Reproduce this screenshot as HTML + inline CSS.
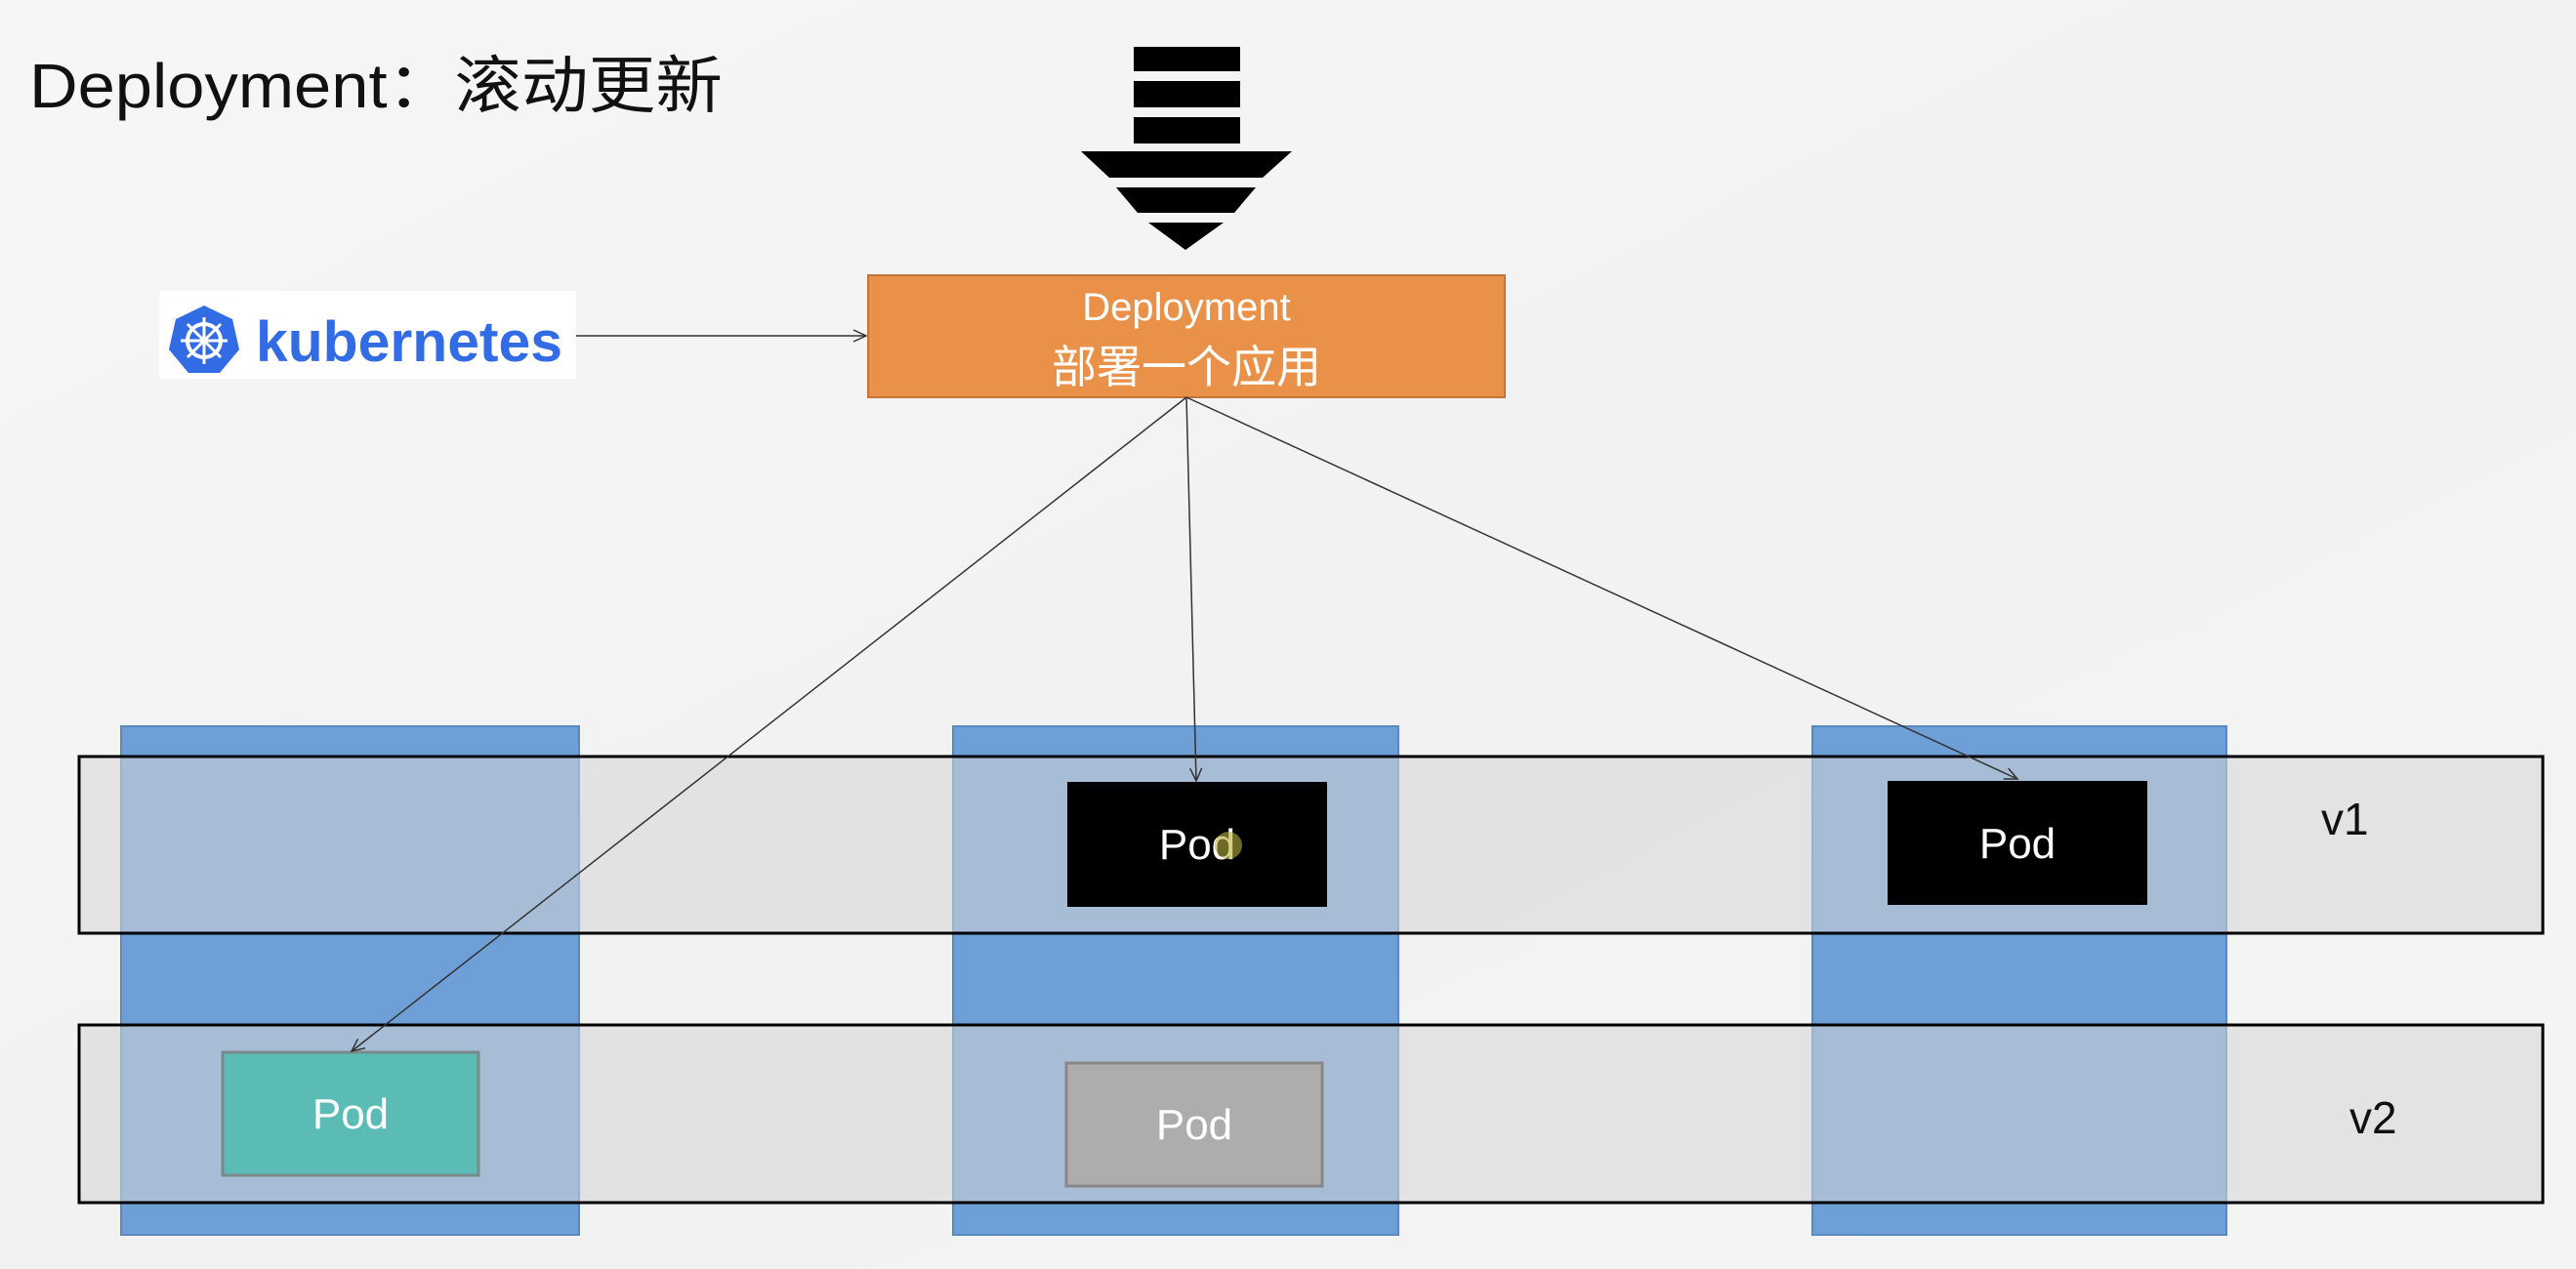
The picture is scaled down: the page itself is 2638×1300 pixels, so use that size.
<!DOCTYPE html>
<html><head><meta charset="utf-8"><style>
html,body{margin:0;padding:0;}
body{width:2638px;height:1300px;overflow:hidden;background:#f3f3f3;}
svg{display:block;}
</style></head><body>
<svg width="2638" height="1300" viewBox="0 0 2638 1300" xmlns="http://www.w3.org/2000/svg">
<defs>
<linearGradient id="bg" x1="0" y1="0" x2="1" y2="1">
<stop offset="0" stop-color="#f6f6f6"/><stop offset="0.5" stop-color="#f2f2f2"/><stop offset="1" stop-color="#f4f4f4"/>
</linearGradient>
<marker id="ah" markerWidth="16" markerHeight="16" refX="14" refY="8" orient="auto" markerUnits="userSpaceOnUse">
<path d="M1,2 L14,8 L1,14" fill="none" stroke="#333" stroke-width="1.5"/>
</marker>
</defs>
<rect width="2638" height="1300" fill="url(#bg)"/>

<!-- title -->
<text x="30" y="110" font-family="Liberation Sans, Noto Sans CJK SC, sans-serif" font-size="64" fill="#111" textLength="710" lengthAdjust="spacingAndGlyphs">Deployment：滚动更新</text>

<!-- big arrow -->
<g fill="#000">
<rect x="1161" y="48" width="109" height="25"/>
<rect x="1161" y="83" width="109" height="27"/>
<rect x="1161" y="120" width="109" height="27"/>
<polygon points="1107,155 1323,155 1293,182 1136,182"/>
<polygon points="1143,192 1286,192 1264,218 1165,218"/>
<polygon points="1176,228 1253,228 1214,256"/>
</g>

<!-- kubernetes logo -->
<rect x="163" y="298" width="427" height="90" fill="#fff"/>
<polygon points="209,313 238,327 245,358 225,382 193,382 173,358 180,327" fill="#326ce5"/>
<circle cx="209" cy="349" r="17" fill="none" stroke="#fff" stroke-width="4"/>
<g stroke="#fff" stroke-width="3">
<line x1="209" y1="325" x2="209" y2="373"/><line x1="185" y1="349" x2="233" y2="349"/>
<line x1="192" y1="332" x2="226" y2="366"/><line x1="226" y1="332" x2="192" y2="366"/>
</g>
<text x="262" y="370" font-family="Liberation Sans, sans-serif" font-weight="bold" font-size="58" fill="#326ce5" textLength="314" lengthAdjust="spacingAndGlyphs">kubernetes</text>
<line x1="590" y1="344" x2="887" y2="344" stroke="#333" stroke-width="1.5" marker-end="url(#ah)"/>

<!-- Deployment box -->
<rect x="889" y="282" width="652" height="125" fill="#ea9149" stroke="#c4733a" stroke-width="2"/>
<text x="1215" y="328" text-anchor="middle" font-family="Liberation Sans, sans-serif" font-size="40" fill="#fff">Deployment</text>
<text x="1215" y="392" text-anchor="middle" font-family="Liberation Sans, Noto Sans CJK SC, sans-serif" font-size="46" fill="#fff">部署一个应用</text>

<!-- columns -->
<g fill="#6f9fd7" stroke="#5a88c0" stroke-width="2">
<rect x="124" y="744" width="469" height="521"/>
<rect x="976" y="744" width="456" height="521"/>
<rect x="1856" y="744" width="424" height="521"/>
</g>
<!-- rows -->
<g fill="rgba(214,214,214,0.55)" stroke="#000" stroke-width="3">
<rect x="81" y="775" width="2523" height="181"/>
<rect x="81" y="1050" width="2523" height="182"/>
</g>

<!-- pods -->
<rect x="1093" y="801" width="266" height="128" fill="#000"/>
<text x="1226" y="880" text-anchor="middle" font-family="Liberation Sans, sans-serif" font-size="44" fill="#fff">Pod</text>
<circle cx="1258" cy="866" r="14" fill="#b8b040" opacity="0.6"/>
<rect x="1933" y="800" width="266" height="127" fill="#000"/>
<text x="2066" y="879" text-anchor="middle" font-family="Liberation Sans, sans-serif" font-size="44" fill="#fff">Pod</text>
<rect x="228" y="1078" width="262" height="126" fill="#5bbcb5" stroke="#7a8a8a" stroke-width="3"/>
<text x="359" y="1156" text-anchor="middle" font-family="Liberation Sans, sans-serif" font-size="44" fill="#fff">Pod</text>
<rect x="1092" y="1089" width="262" height="126" fill="#adadad" stroke="#888" stroke-width="3"/>
<text x="1223" y="1167" text-anchor="middle" font-family="Liberation Sans, sans-serif" font-size="44" fill="#fff">Pod</text>

<text x="2377" y="855" font-family="Liberation Sans, sans-serif" font-size="46" fill="#111">v1</text>
<text x="2406" y="1161" font-family="Liberation Sans, sans-serif" font-size="46" fill="#111">v2</text>

<!-- connectors -->
<g stroke="#333" stroke-width="1.5" fill="none">
<line x1="1215" y1="407" x2="360" y2="1077" marker-end="url(#ah)"/>
<line x1="1215" y1="407" x2="1225" y2="800" marker-end="url(#ah)"/>
<line x1="1215" y1="407" x2="2066" y2="798" marker-end="url(#ah)"/>
</g>
</svg>
</body></html>
